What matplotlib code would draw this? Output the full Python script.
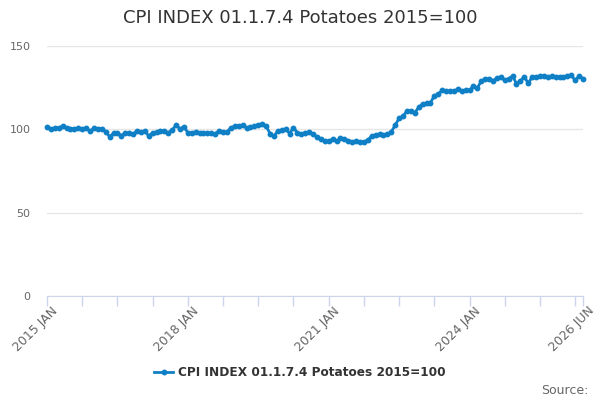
import matplotlib
matplotlib.use("Agg")
import matplotlib.pyplot as plt
import numpy as np

title = "CPI INDEX 01.1.7.4 Potatoes 2015=100"

# monthly index values, 2015 JAN .. 2026 JUN
values = [
    101.5, 100.0, 100.8, 100.8, 102.0, 100.8, 100.5, 100.2, 100.6, 100.4, 100.6, 99.0,
    100.6, 100.4, 100.5, 98.6, 95.6, 97.6, 97.8, 96.3, 97.8, 98.0, 97.0, 99.2,
    98.6, 99.0, 96.0, 98.0, 98.2, 99.2, 99.0, 98.0, 99.6, 102.6, 100.2, 101.6,
    98.0, 98.0, 98.4, 97.6, 98.0, 97.6, 97.8, 97.4, 99.2, 98.2, 98.4, 101.0,
    101.8, 102.2, 102.4, 100.8, 101.6, 101.8, 102.8, 103.2, 102.0, 97.5, 95.8, 99.2,
    99.4, 100.3, 97.5, 101.0, 98.0, 97.0, 97.6, 98.4, 97.0, 95.6, 94.0, 93.0,
    92.8, 94.2, 93.0, 94.6, 94.4, 93.2, 92.6, 92.8, 92.6, 92.6, 93.4, 96.2,
    96.6, 97.0, 96.8, 97.0, 98.5, 102.5, 106.6, 108.0, 111.0, 111.0, 110.0, 113.2,
    115.4, 115.6, 116.0, 120.0, 121.2, 123.4, 123.0, 122.8, 123.0, 124.0, 123.2, 123.6,
    123.4, 126.0, 124.8, 129.0, 130.2, 130.4, 129.2, 130.6, 131.4, 129.4, 130.4, 132.0,
    127.4, 129.2, 131.6, 127.6, 131.4, 131.6, 132.0, 132.2, 131.6, 131.8, 131.4, 131.6,
    131.4, 131.8, 132.4, 129.4, 132.0, 130.4,
]

tick_months = list(range(0, 136, 9)) + [137]
label_months = [0, 36, 72, 108, 137]
label_texts = ["2015 JAN", "2018 JAN", "2021 JAN", "2024 JAN", "2026 JUN"]
y_ticks = [0, 50, 100, 150]

months = np.arange(len(values))

fig = plt.figure(figsize=(6, 4), dpi=100)
ax = fig.add_axes([47 / 600, 1 - 296 / 400, 536 / 600, 250 / 400])

line_color = "#0f7fc6"
ax.plot(months, values, color=line_color, linewidth=2, marker="o",
        markersize=3.2, zorder=3, clip_on=False)

ax.set_xlim(0, 137)
ax.set_ylim(0, 150)

ax.set_yticks(y_ticks)
ax.set_yticklabels([str(v) for v in y_ticks], color="#666666", fontsize=8)
ax.tick_params(axis="y", length=0, pad=12)
ax.grid(axis="y", color="#e6e6e6", linewidth=1)
ax.set_axisbelow(True)

ax.set_xticks(tick_months)
ax.set_xticklabels(["" for _ in tick_months])
ax.tick_params(axis="x", length=7.2, color="#ccd6eb", width=1)
for m, txt in zip(label_months, label_texts):
    ax.annotate(txt, xy=(m, 0), xycoords="data", xytext=(3, -6),
                textcoords="offset points", rotation=45, ha="right", va="top",
                fontsize=9, color="#666666", rotation_mode="anchor")

for side in ["top", "right", "left"]:
    ax.spines[side].set_visible(False)
ax.spines["bottom"].set_color("#ccd6eb")

fig.text(0.5, 1 - 18 / 400, title, ha="center", va="center",
         fontsize=13, color="#333333")

# legend
ax.plot([], [], color=line_color, linewidth=2, marker="o", markersize=3.2,
        label=title)
leg = fig.legend(loc="center", bbox_to_anchor=(0.5, 1 - 373 / 400),
                 frameon=False, prop={"size": 8.7, "weight": "bold"},
                 handlelength=1.6, handletextpad=0.4)
for t in leg.get_texts():
    t.set_color("#333333")

fig.text(588 / 600, 1 - 390 / 400, "Source:", ha="right", va="center",
         fontsize=9, color="#666666")

fig.savefig("out.png", dpi=100)
